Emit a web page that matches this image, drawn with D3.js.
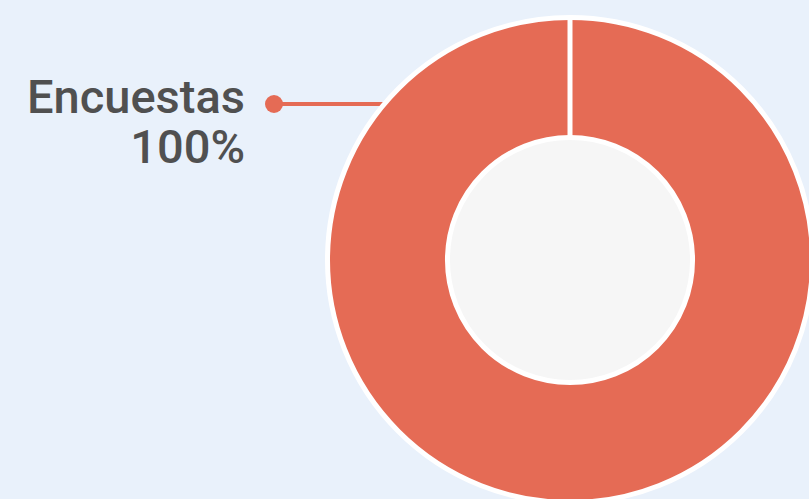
<!DOCTYPE html>
<html>
<head>
<meta charset="utf-8">
<script src="https://cdn.jsdelivr.net/npm/d3@7"></script>
<style>
  html, body { margin: 0; padding: 0; background: #e9f1fb; }
  svg { display: block; }
</style>
</head>
<body>
<div id="chart"></div>
<script>
  // data
  const categories = ["Encuestas"];
  const values = [100];
  const percentLabels = ["100%"];

  const width = 809, height = 499;
  const cx = 570, cy = 260,
    outerRadius = 242.5,
    innerRadius = 122.5;

  const slice_color = "#e56b55";

  const svg = d3.select("#chart")
    .append("svg")
    .attr("width", width)
    .attr("height", height);

  svg.append("rect")
    .attr("width", width)
    .attr("height", height)
    .attr("fill", "#e9f1fb");

  const data = categories.map((c, i) => ({ name: c, value: values[i], label: percentLabels[i] }));

  const pie = d3.pie().value(d => d.value).sort(null);
  const arcs = pie(data);

  const arc = d3.arc()
    .innerRadius(innerRadius)
    .outerRadius(outerRadius);

  // leader line + dot, drawn behind the donut
  const labelY = 104;
  const dotX = 274;
  const lineEndX = cx - Math.sqrt(outerRadius * outerRadius - (cy - labelY) * (cy - labelY));

  const leader = svg.append("g");
  leader.append("line")
    .attr("x1", dotX)
    .attr("x2", lineEndX)
    .attr("y1", labelY)
    .attr("y2", labelY)
    .attr("stroke", slice_color)
    .attr("stroke-width", 4);
  leader.append("circle")
    .attr("cx", dotX)
    .attr("cy", labelY)
    .attr("r", 9)
    .attr("fill", slice_color);

  const g = svg.append("g")
    .attr("transform", `translate(${cx},${cy})`);

  // centre disc
  g.append("circle")
    .attr("r", innerRadius)
    .attr("fill", "#f6f6f6");

  g.selectAll("path")
    .data(arcs)
    .join("path")
    .attr("d", arc)
    .attr("fill", slice_color)
    .attr("stroke", "#fff")
    .attr("stroke-width", 5);

  // radial edge of each slice (d3 skips it for a full circle)
  g.selectAll("line.edge")
    .data(arcs)
    .join("line")
    .attr("class", "edge")
    .attr("x1", d => innerRadius * Math.sin(d.startAngle))
    .attr("y1", d => -innerRadius * Math.cos(d.startAngle))
    .attr("x2", d => outerRadius * Math.sin(d.startAngle))
    .attr("y2", d => -outerRadius * Math.cos(d.startAngle))
    .attr("stroke", "#fff")
    .attr("stroke-width", 5);

  // labels
  const labels = svg.append("g")
    .attr("font-family", "Roboto, 'Noto Sans', sans-serif")
    .attr("font-weight", 500)
    .attr("font-size", "47px")
    .attr("fill", "#505050")
    .attr("text-anchor", "end");

  labels.selectAll("text.name")
    .data(data)
    .join("text")
    .attr("class", "name")
    .attr("x", 245)
    .attr("y", 113)
    .text(d => d.name);

  labels.selectAll("text.pct")
    .data(data)
    .join("text")
    .attr("class", "pct")
    .attr("x", 245)
    .attr("y", 163)
    .text(d => d.label);
</script>
</body>
</html>
